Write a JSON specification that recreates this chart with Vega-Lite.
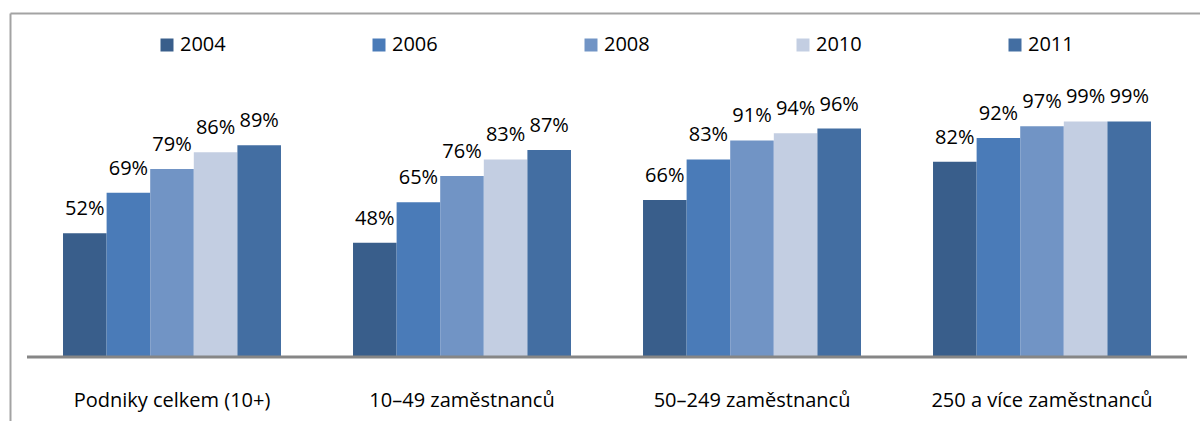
{
  "$schema": "https://vega.github.io/schema/vega-lite/v6.json",
  "width": 1190,
  "height": 408,
  "autosize": {"type": "none"},
  "padding": {"left": 10, "top": 13, "right": 0, "bottom": 0},
  "background": "white",
  "config": {"view": {"stroke": null}, "font": "Open Sans"},
  "data": {
    "values": [
      {"category": "Podniky celkem (10+)", "year": "2004", "value": 0.52},
      {"category": "Podniky celkem (10+)", "year": "2006", "value": 0.69},
      {"category": "Podniky celkem (10+)", "year": "2008", "value": 0.79},
      {"category": "Podniky celkem (10+)", "year": "2010", "value": 0.86},
      {"category": "Podniky celkem (10+)", "year": "2011", "value": 0.89},
      {"category": "10–49 zaměstnanců", "year": "2004", "value": 0.48},
      {"category": "10–49 zaměstnanců", "year": "2006", "value": 0.65},
      {"category": "10–49 zaměstnanců", "year": "2008", "value": 0.76},
      {"category": "10–49 zaměstnanců", "year": "2010", "value": 0.83},
      {"category": "10–49 zaměstnanců", "year": "2011", "value": 0.87},
      {"category": "50–249 zaměstnanců", "year": "2004", "value": 0.66},
      {"category": "50–249 zaměstnanců", "year": "2006", "value": 0.83},
      {"category": "50–249 zaměstnanců", "year": "2008", "value": 0.91},
      {"category": "50–249 zaměstnanců", "year": "2010", "value": 0.94},
      {"category": "50–249 zaměstnanců", "year": "2011", "value": 0.96},
      {"category": "250 a více zaměstnanců", "year": "2004", "value": 0.82},
      {"category": "250 a více zaměstnanců", "year": "2006", "value": 0.92},
      {"category": "250 a více zaměstnanců", "year": "2008", "value": 0.97},
      {"category": "250 a více zaměstnanců", "year": "2010", "value": 0.99},
      {"category": "250 a více zaměstnanců", "year": "2011", "value": 0.99}
    ]
  },
  "layer": [
    {
      "encoding": {
        "x": {
          "field": "category",
          "type": "nominal",
          "sort": null,
          "scale": {
            "domain": ["Podniky celkem (10+)", "10–49 zaměstnanců", "50–249 zaměstnanců", "250 a více zaměstnanců"],
            "paddingInner": 0,
            "paddingOuter": 0.0517,
            "align": 0.567
          },
          "axis": {
            "orient": "bottom",
            "offset": -64,
            "domain": false,
            "ticks": false,
            "title": null,
            "labelFont": "Open Sans",
            "labelFontSize": 20,
            "labelColor": "black",
            "labelPadding": 49,
            "labelBaseline": "alphabetic",
            "labelLimit": 500,
            "labelAngle": 0
          }
        },
        "y": {
          "field": "value",
          "type": "quantitative",
          "scale": {"domain": [-0.2689, 1.4454], "nice": false, "zero": false},
          "axis": {
            "orient": "left",
            "title": null,
            "labels": false,
            "ticks": false,
            "domain": true,
            "domainColor": "#A3A3A3",
            "domainWidth": 2,
            "grid": true,
            "gridColor": "#A3A3A3",
            "gridWidth": 2,
            "values": [1.4454]
          }
        },
        "xOffset": {
          "field": "year",
          "type": "nominal",
          "sort": null,
          "scale": {"domain": ["2004", "2006", "2008", "2010", "2011"], "paddingInner": 0, "paddingOuter": 0.826}
        }
      },
      "layer": [
        {
          "mark": {"type": "bar"},
          "encoding": {
            "y2": {"datum": 0},
            "color": {
              "field": "year",
              "type": "nominal",
              "sort": null,
              "scale": {
                "domain": ["2004", "2006", "2008", "2010", "2011"],
                "range": ["#395E8B", "#4A7BB8", "#7194C5", "#C3CEE2", "#436EA2"]
              },
              "legend": {
                "orient": "none",
                "legendX": 147,
                "legendY": 22,
                "direction": "horizontal",
                "columns": 5,
                "columnPadding": 143,
                "title": null,
                "symbolType": "square",
                "symbolSize": 169,
                "symbolStrokeWidth": 0,
                "labelFont": "Open Sans",
                "labelFontSize": 20,
                "labelColor": "black",
                "labelOffset": 3,
                "padding": 0
              }
            }
          }
        },
        {
          "mark": {"type": "text", "dy": -18, "baseline": "alphabetic", "align": "center", "fontSize": 20, "font": "Open Sans", "color": "black"},
          "encoding": {
            "text": {"field": "value", "type": "quantitative", "format": ".0%"}
          }
        }
      ]
    },
    {
      "data": {"values": [{"start": 0, "end": 4, "level": 0}]},
      "mark": {"type": "rule", "color": "#868686", "strokeWidth": 3},
      "encoding": {
        "x": {"field": "start", "type": "quantitative", "scale": {"domain": [-0.0586, 4.0448], "nice": false, "zero": false}, "axis": null},
        "x2": {"field": "end"},
        "y": {"field": "level", "type": "quantitative", "scale": {"domain": [-0.2689, 1.4454], "nice": false, "zero": false}}
      }
    }
  ],
  "resolve": {"scale": {"x": "independent"}}
}
